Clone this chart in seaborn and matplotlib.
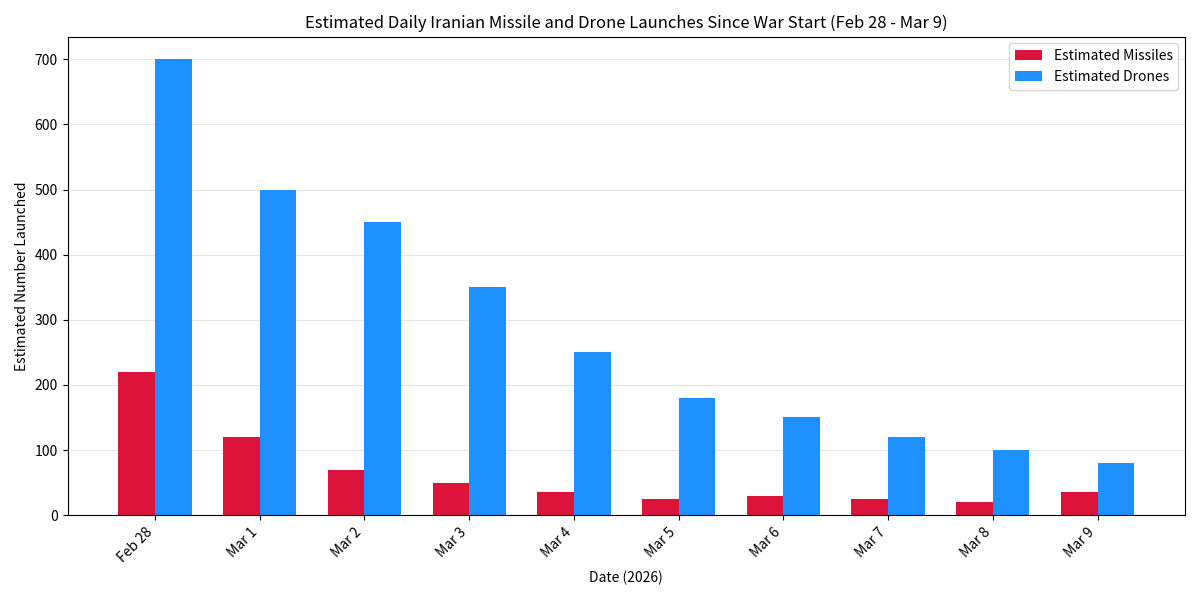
import pandas as pd
import matplotlib.pyplot as plt
import seaborn as sns

plt.rcParams['font.family'] = ['Noto Sans CJK SC', 'DejaVu Sans']

dates = ['Feb 28', 'Mar 1', 'Mar 2', 'Mar 3', 'Mar 4', 'Mar 5', 'Mar 6', 'Mar 7', 'Mar 8', 'Mar 9']
missiles = [220, 120, 70, 50, 35, 25, 30, 25, 20, 35]
drones = [700, 500, 450, 350, 250, 180, 150, 120, 100, 80]

df = pd.DataFrame({'date': dates * 2,
                   'count': missiles + drones,
                   'type': ['Estimated Missiles'] * len(dates) + ['Estimated Drones'] * len(dates)})

fig, ax = plt.subplots(figsize=(12, 6), dpi=100)
sns.barplot(data=df, x='date', y='count', hue='type', order=dates,
            palette={'Estimated Missiles': 'crimson', 'Estimated Drones': 'dodgerblue'},
            width=0.7, gap=0, saturation=1, ax=ax)

ax.set_xlim(-0.835, len(dates) - 1 + 0.835)
ax.set_ylim(0, 735)
ax.set_title('Estimated Daily Iranian Missile and Drone Launches Since War Start (Feb 28 - Mar 9)', fontsize=12)
ax.set_xlabel('Date (2026)')
ax.set_ylabel('Estimated Number Launched')
plt.setp(ax.get_xticklabels(), rotation=45, ha='right')
ax.yaxis.grid(True, alpha=0.3)
ax.set_axisbelow(True)
ax.legend(title=None, loc='upper right')

plt.tight_layout()
plt.savefig('out.png')
